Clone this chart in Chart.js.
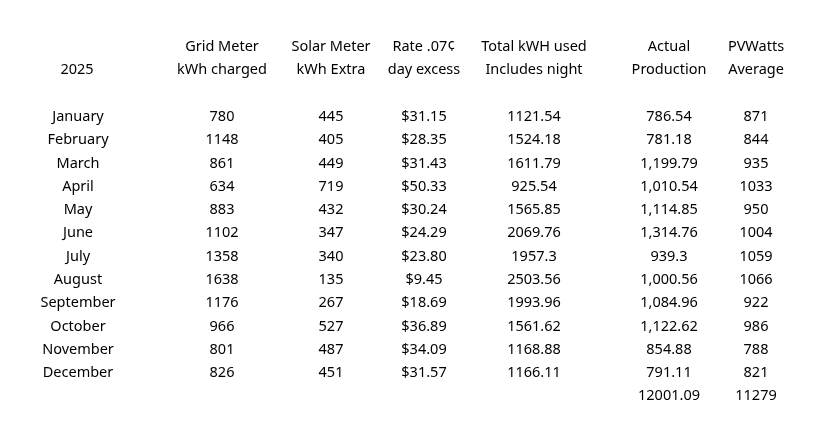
<!DOCTYPE html>
<html><head><meta charset="utf-8">
<script src="https://cdn.jsdelivr.net/npm/chart.js@4"></script>
<style>html,body{margin:0;padding:0;background:#fff}canvas{display:block}</style>
</head><body>
<canvas id="c" width="833" height="443"></canvas>
<script>
const year = "2025";
const headers1 = ["Grid Meter","Solar Meter","Rate .07¢","Total kWH used","Actual","PVWatts"];
const headers2 = ["kWh charged","kWh Extra","day excess","Includes night","Production","Average"];
const months = ["January","February","March","April","May","June","July","August","September","October","November","December"];
const gridCharged = ["780","1148","861","634","883","1102","1358","1638","1176","966","801","826"];
const solarExtra = ["445","405","449","719","432","347","340","135","267","527","487","451"];
const rateExcess = ["$31.15","$28.35","$31.43","$50.33","$30.24","$24.29","$23.80","$9.45","$18.69","$36.89","$34.09","$31.57"];
const totalUsed = ["1121.54","1524.18","1611.79","925.54","1565.85","2069.76","1957.3","2503.56","1993.96","1561.62","1168.88","1166.11"];
const actualProd = ["786.54","781.18","1,199.79","1,010.54","1,114.85","1,314.76","939.3","1,000.56","1,084.96","1,122.62","854.88","791.11"];
const pvwatts = ["871","844","935","1033","950","1004","1059","1066","922","986","788","821"];
const totals = ["12001.09","11279"];

const colX = [222,331,424,534,669,756];
const monthX = 78, yearX = 77;
const hdrY = [47,70], row0 = 117, rowStep = 23.27, totalY = 396;

const tablePlugin = {
  id:'table',
  afterDraw(chart){
    const {ctx, scales:{x,y}} = chart;
    ctx.save();
    ctx.fillStyle='#000';
    ctx.font='14.5px "Noto Sans", sans-serif';
    ctx.textBaseline='middle';
    const put=(t,px,py,al)=>{ctx.textAlign=al||'center';ctx.fillText(t,x.getPixelForValue(px),y.getPixelForValue(py));};
    put(year,yearX,hdrY[1]);
    headers1.forEach((h,i)=>put(h,colX[i],hdrY[0]));
    headers2.forEach((h,i)=>put(h,colX[i],hdrY[1]));
    const cols=[gridCharged,solarExtra,rateExcess,totalUsed,actualProd,pvwatts];
    months.forEach((m,r)=>{
      const py=row0+r*rowStep;
      put(m,monthX,py);
      cols.forEach((c,i)=>put(c[r],colX[i],py));
    });
    put(totals[0],colX[4],totalY);
    put(totals[1],colX[5],totalY);
    ctx.restore();
  }
};

new Chart(document.getElementById('c'),{
  type:'scatter',
  data:{datasets:[{data:[]}]},
  options:{
    responsive:false, animation:false,
    layout:{padding:0},
    plugins:{legend:{display:false},tooltip:{enabled:false}},
    scales:{
      x:{type:'linear',min:0,max:833,display:false},
      y:{type:'linear',min:0,max:443,reverse:true,display:false}
    }
  },
  plugins:[tablePlugin]
});
</script>
</body></html>
